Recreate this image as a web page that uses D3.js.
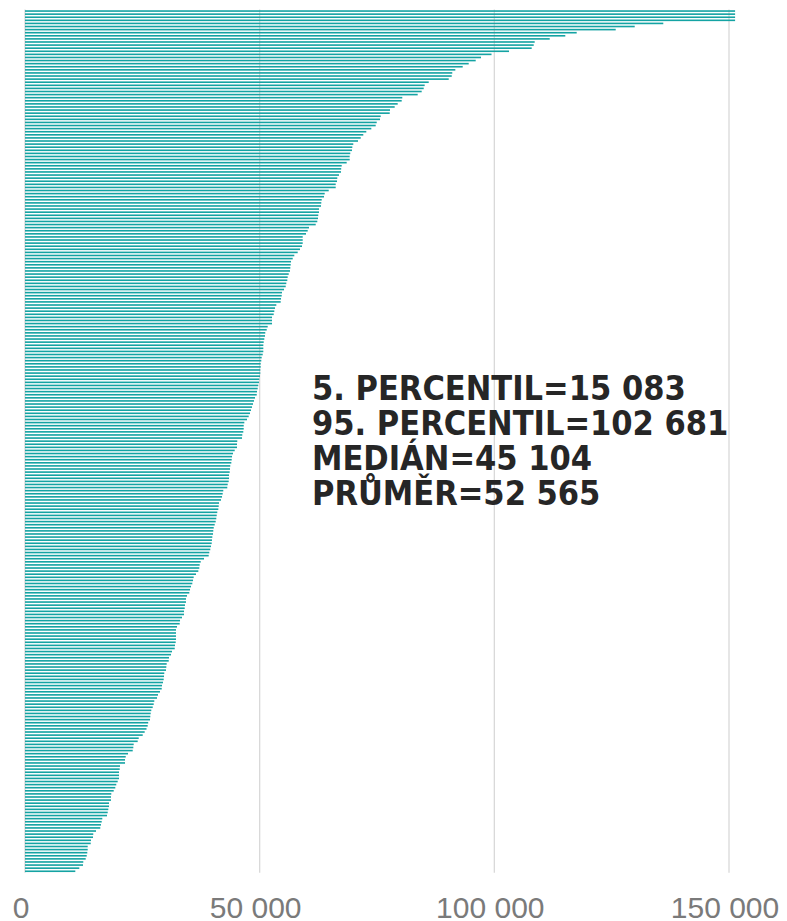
<!DOCTYPE html>
<html>
<head>
<meta charset="utf-8">
<script src="https://cdn.jsdelivr.net/npm/d3@7"></script>
<style>
  html, body { margin: 0; padding: 0; background: #fff; }
  svg { display: block; }
</style>
</head>
<body>
<div id="chart"></div>
<script>
// values, sorted from top bar to bottom bar
var values = [
    151300, 151300, 151300, 151300, 136000, 129910, 125860, 117550, 115120, 111800,
    108600, 108390, 107960, 103130, 99400, 97160, 96030, 94540, 93260, 91690,
    91040, 90920, 90280, 86020, 85160, 84950, 84520, 83670, 80390, 80260,
    79410, 78770, 77770, 77710, 75790, 75640, 74940, 74720, 73790, 72720,
    72080, 71530, 70950, 69950, 69740, 69670, 69310, 69180, 69180, 68540,
    67480, 67370, 67330, 66900, 66540, 66480, 66200, 66200, 64710, 63860,
    63710, 63220, 63130, 63070, 62640, 62640, 62490, 62430, 62280, 61940,
    60510, 60230, 59870, 59170, 59170, 59170, 59020, 58590, 58100, 57380,
    57040, 56680, 56610, 56530, 56460, 56190, 55970, 55890, 55680, 55550,
    55190, 54760, 54690, 54550, 54480, 53550, 53270, 53120, 52990, 52630,
    52630, 52630, 51710, 51500, 51200, 51140, 50990, 50860, 50780, 50780,
    50780, 50650, 50430, 50350, 50220, 50220, 50140, 50140, 50070, 49920,
    49860, 49710, 49580, 49430, 49370, 49010, 48790, 48580, 48370, 48150,
    47940, 47660, 47300, 46730, 46600, 46600, 46510, 46300, 46240, 45230,
    45170, 45170, 44680, 44320, 44110, 44040, 43960, 43740, 43680, 43610,
    43470, 43470, 43400, 43190, 43100, 42250, 42120, 41980, 41760, 41340,
    41270, 41190, 40970, 40850, 40760, 40630, 40420, 40210, 40120, 40060,
    39910, 39840, 39780, 39630, 39480, 39270, 39140, 38140, 37440, 37220,
    37140, 36930, 36430, 35940, 35800, 35650, 35370, 35160, 35010, 34520,
    34300, 34300, 34090, 34030, 33880, 33880, 33450, 33030, 32960, 32390,
    32170, 32170, 32170, 32170, 32110, 31960, 31900, 31320, 31110, 30680,
    30620, 30190, 30110, 30040, 29680, 29620, 29550, 29400, 29190, 29130,
    28760, 28340, 28130, 27550, 27420, 27210, 26910, 26780, 26700, 26630,
    26250, 26140, 25890, 25500, 25080, 24230, 24010, 23160, 23080, 22950,
    21950, 21460, 21310, 21310, 20240, 20180, 20030, 20030, 20030, 19750,
    19450, 19240, 18900, 18390, 18320, 18320, 17900, 17900, 17750, 17620,
    17470, 16470, 16340, 16190, 16040, 15130, 14550, 14490, 14060, 14000,
    13360, 13360, 13270, 13150, 12930, 12420, 12360, 11570, 10720
];

var ticks = [0, 50000, 100000, 150000];
var tickLabels = ["0", "50 000", "100 000", "150 000"];

var statLines = [
    "5. PERCENTIL=15 083",
    "95. PERCENTIL=102 681",
    "MEDIÁN=45 104",
    "PRŮMĚR=52 565"
];

var width = 787, height = 921;

var svg = d3.select("#chart").append("svg")
    .attr("width", width)
    .attr("height", height);

var x = d3.scaleLinear().domain([0, 150000]).range([25, 729]);
var y = d3.scaleBand()
    .domain(d3.range(values.length))
    .range([9.5, 872.8])
    .paddingInner(0.48)
    .paddingOuter(0.24);

// gridlines (the one at 0 doubles as the axis line)
svg.append("g").selectAll("line")
    .data(ticks)
    .enter().append("line")
    .attr("x1", function (d) { return x(d); })
    .attr("x2", function (d) { return x(d); })
    .attr("y1", 9.5)
    .attr("y2", 872.8)
    .attr("stroke", "#d9d9d9")
    .attr("stroke-width", 1.3);

// bars
svg.append("g").selectAll("rect")
    .data(values)
    .enter().append("rect")
    .attr("x", x(0))
    .attr("y", function (d, i) { return y(i); })
    .attr("width", function (d) { return x(d) - x(0); })
    .attr("height", y.bandwidth())
    .attr("fill", "#14a3a3");

// tick labels
svg.append("g").selectAll("text")
    .data(ticks)
    .enter().append("text")
    .attr("x", function (d) { return x(d) - 4; })
    .attr("y", 918)
    .attr("text-anchor", "middle")
    .attr("font-family", "'Liberation Sans', Arial, sans-serif")
    .attr("font-size", 30)
    .attr("fill", "#7a7a7a")
    .text(function (d, i) { return tickLabels[i]; });

// statistics text box
svg.append("g").selectAll("text")
    .data(statLines)
    .enter().append("text")
    .attr("x", 312)
    .attr("y", function (d, i) { return 400 + i * 35; })
    .attr("font-family", "'DejaVu Sans Condensed', 'DejaVu Sans', sans-serif")
    .attr("font-stretch", "condensed")
    .attr("font-weight", "bold")
    .attr("font-size", 34)
    .attr("fill", "#262626")
    .text(function (d) { return d; });
</script>
</body>
</html>
